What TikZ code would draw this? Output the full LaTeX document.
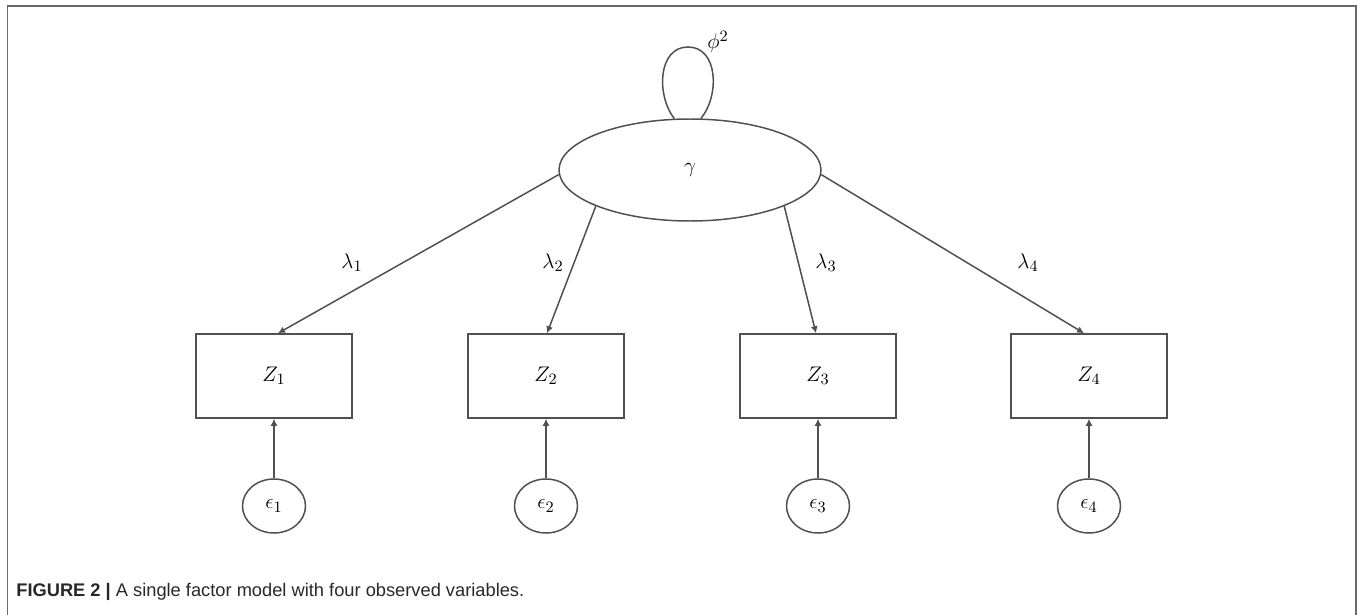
\documentclass[tikz,border=0pt]{standalone}
\usepackage{fontspec}
\usetikzlibrary{shapes.geometric,arrows.meta}
\newfontfamily\captionfont{Liberation Sans}
\definecolor{Line}{RGB}{80,80,80}
\definecolor{Frame}{RGB}{105,105,105}
\definecolor{Caption}{RGB}{40,40,40}

\begin{document}
\begin{tikzpicture}
			\tikzstyle{every node}=[font=\fontsize{13}{15}\selectfont];
			\tikzstyle{factor}=[draw=Line, line width=0.85pt, shape=ellipse, inner sep=0pt, minimum width=5.24cm, minimum height=2.04cm];
			\tikzstyle{observed}=[draw=Line, line width=0.85pt, shape=rectangle, minimum width=3.12cm, minimum height=1.68cm];
			\tikzstyle{residual}=[draw=Line, line width=0.85pt, shape=ellipse, inner sep=0pt, minimum width=1.26cm, minimum height=1.08cm];
			\tikzstyle{path}=[draw=Line, line width=0.85pt, -{Latex[length=1.4mm,width=1.4mm]}];
			\useasboundingbox (0, 0) rectangle (27.14, -12.3);
			% frame, open at the bottom
			\draw [Frame, line width=1.1pt] (0.15, -12.3) -- (0.15, -0.12) -- (27.12, -0.12) -- (27.12, -12.3);
			% latent factor and its variance
			\node [factor] (gamma) at (13.8, -3.4) {$\gamma$};
			\coordinate (looptop) at (13.76, -0.94);
			\draw [Line, line width=0.85pt] (gamma.107) .. controls (13.12, -1.9) and (13.16, -0.94) .. (looptop) .. controls (14.36, -0.94) and (14.4, -1.9) .. (gamma.78);
			\node (phi) at (14.36, -0.84) {$\phi^2$};
			% observed variables
			\node [observed] (z1) at (5.48, -7.52) {$Z_1$};
			\node [observed] (z2) at (10.92, -7.52) {$Z_2$};
			\node [observed] (z3) at (16.36, -7.52) {$Z_3$};
			\node [observed] (z4) at (21.78, -7.52) {$Z_4$};
			% errors
			\node [residual] (e1) at (5.48, -10.12) {$\epsilon_1$};
			\node [residual] (e2) at (10.92, -10.12) {$\epsilon_2$};
			\node [residual] (e3) at (16.36, -10.12) {$\epsilon_3$};
			\node [residual] (e4) at (21.78, -10.12) {$\epsilon_4$};
			% loadings
			\draw [path] (gamma.182) -- ([xshift=0.08cm]z1.north);
			\draw [path] (gamma.201) -- ([xshift=0.02cm]z2.north);
			\draw [path] (gamma.339) -- ([xshift=-0.04cm]z3.north);
			\draw [path] (gamma.358) -- ([xshift=-0.1cm]z4.north);
			\node (l1) at (7.04, -5.26) {$\lambda_1$};
			\node (l2) at (11.06, -5.26) {$\lambda_2$};
			\node (l3) at (16.52, -5.26) {$\lambda_3$};
			\node (l4) at (20.56, -5.26) {$\lambda_4$};
			\draw [path] (e1) -- (z1);
			\draw [path] (e2) -- (z2);
			\draw [path] (e3) -- (z3);
			\draw [path] (e4) -- (z4);
			% caption
			\node [anchor=base west, inner sep=0pt, text=Caption, font=\captionfont\fontsize{10.4}{12}\selectfont] (caption) at (0.32, -11.93) {\textbf{FIGURE 2 \textbar} A single factor model with four observed variables.};
		\end{tikzpicture}
\end{document}
